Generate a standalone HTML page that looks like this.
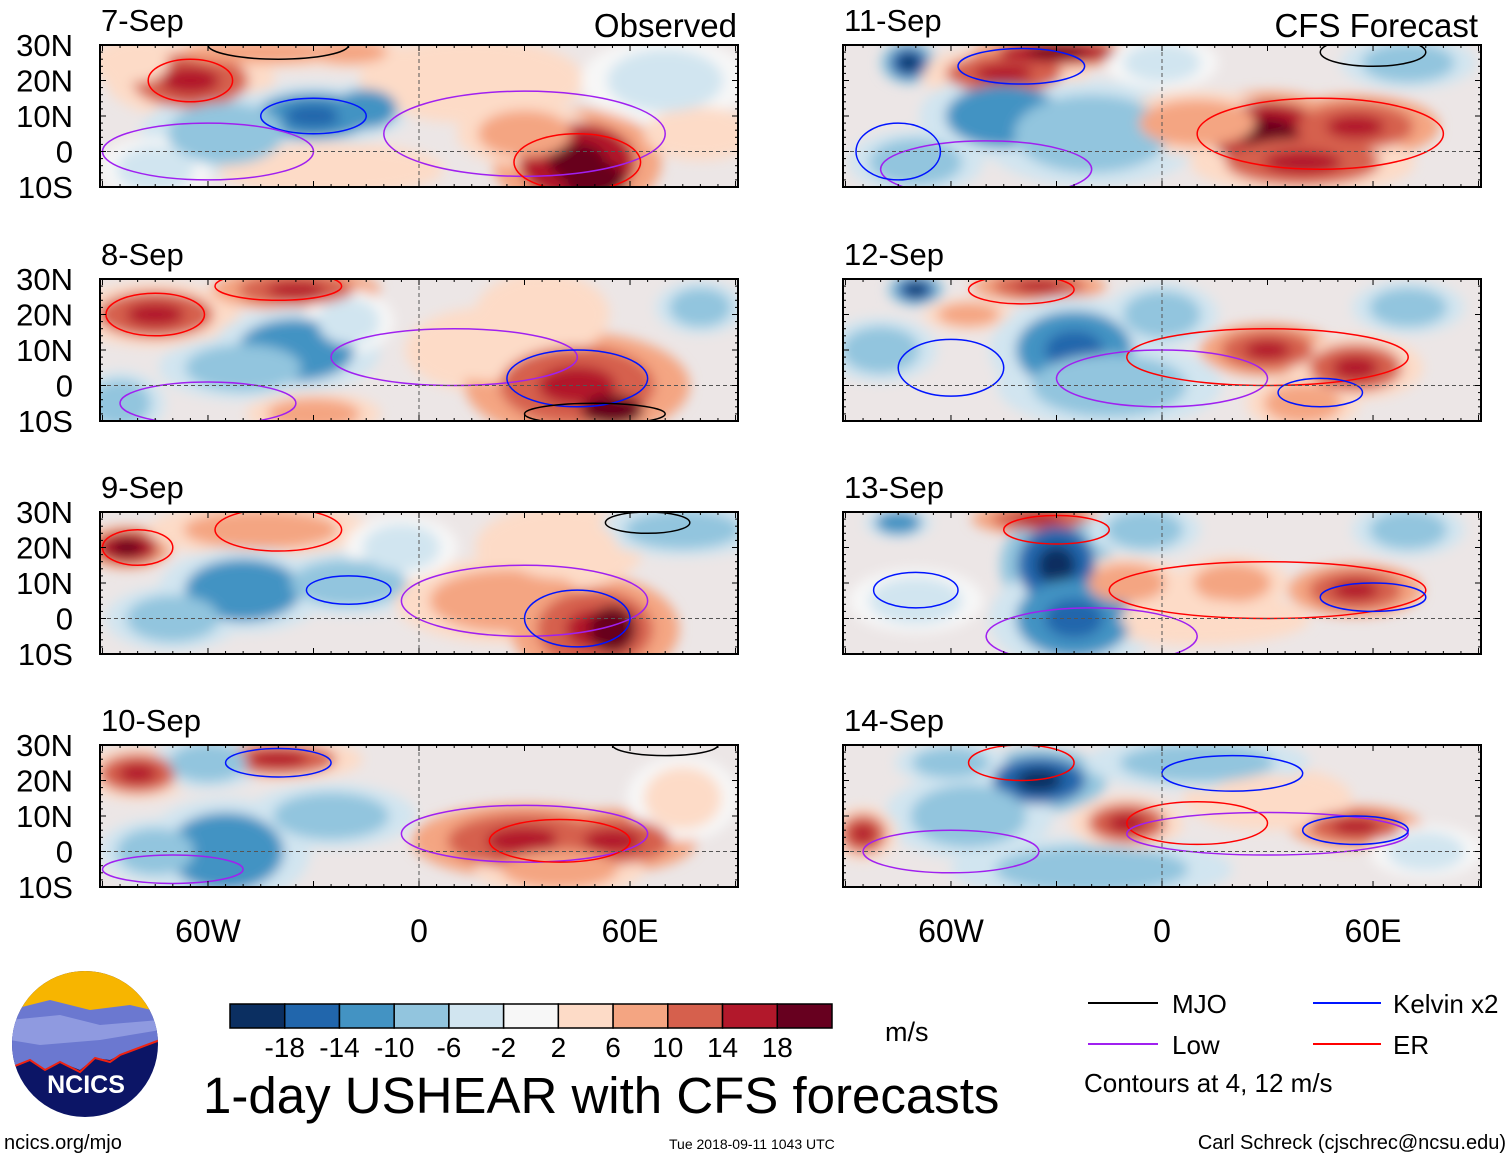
<!DOCTYPE html>
<html><head><meta charset="utf-8"><style>
body{margin:0;background:#fff;width:1510px;height:1159px;overflow:hidden;font-family:"Liberation Sans",sans-serif}
svg{position:absolute;left:0;top:0}
</style></head><body>
<svg id="fig" width="1510" height="1159" xmlns="http://www.w3.org/2000/svg">
<defs>
<filter id="blur" x="-30%" y="-30%" width="160%" height="160%"><feGaussianBlur stdDeviation="6"/></filter>
</defs>
</svg>
<script>
const panelTitles=["7-Sep","8-Sep","9-Sep","10-Sep","11-Sep","12-Sep","13-Sep","14-Sep"];
const colorLevels=[-18,-14,-10,-6,-2,2,6,10,14,18];
const colorFill=["#0b2f61","#2166ac","#4393c3","#92c5de","#d1e5f0","#f7f7f7","#fddbc7","#f4a582","#d6604d","#b2182b","#67001f"];
const xTicks=[{v:-60,t:"60W"},{v:0,t:"0"},{v:60,t:"60E"}];
const yTicks=[{v:30,t:"30N"},{v:20,t:"20N"},{v:10,t:"10N"},{v:0,t:"0"},{v:-10,t:"10S"}];
// blobs: [lon, lat, rxDeg, ryDeg, value m/s]
const blobs=[
[[-65,20,15,7,12],[-80,25,8,5,6],[-45,28,20,3,10],[-20,28,10,3,8],[-30,10,15,6,-12],[-15,12,8,5,-10],[-55,5,15,8,-6],[-75,-5,10,6,-4],[45,-3,15,10,16],[50,-8,8,5,20],[30,5,12,6,8],[15,20,20,8,6],[-25,-5,20,5,6],[70,20,15,8,-4],[80,5,10,5,6]],
[[-75,20,15,6,12],[-35,27,15,4,14],[-35,10,15,8,-10],[-50,5,15,6,-6],[-20,18,8,6,-4],[20,10,15,8,6],[45,0,20,10,14],[55,-7,8,4,20],[35,20,12,8,6],[-30,-8,12,4,10],[80,22,8,5,-8],[-85,-5,8,6,-6]],
[[-83,20,8,4,16],[-45,25,20,5,10],[-50,8,15,8,-10],[-20,10,15,6,-6],[-70,0,12,6,-6],[25,5,20,8,10],[50,-3,15,10,14],[55,-3,6,6,20],[40,20,15,8,6],[75,25,15,5,-6],[-5,20,10,6,-4]],
[[-80,22,10,5,12],[-40,26,15,4,12],[-55,0,15,10,-10],[-75,0,10,6,-8],[-25,10,15,6,-6],[30,3,20,7,14],[55,3,15,6,14],[40,-5,15,5,10],[75,15,10,8,4],[-60,25,10,5,-6]],
[[-72,25,5,4,-14],[-45,22,15,5,12],[-30,28,15,3,16],[-45,10,15,8,-10],[-20,5,20,10,-8],[-70,-3,12,6,-6],[30,5,15,8,16],[55,7,15,6,14],[40,-3,20,6,12],[10,8,15,6,8],[70,25,12,5,-6],[0,25,10,5,-4]],
[[-70,27,5,3,-14],[-55,20,8,3,10],[-35,28,12,3,14],[-25,10,15,10,-12],[-15,0,20,8,-8],[0,20,10,6,-6],[30,10,12,5,14],[55,5,12,6,12],[40,-5,10,5,10],[70,22,10,5,-8],[-80,10,10,6,-6]],
[[-75,27,6,3,-10],[-35,28,12,3,14],[-30,15,10,10,-16],[-25,0,15,10,-12],[-5,25,10,5,-8],[-10,10,10,5,10],[20,10,10,5,10],[55,8,12,5,14],[10,0,20,5,6],[70,25,10,5,-8],[-70,5,12,6,-4]],
[[-35,20,12,6,-16],[-55,10,15,8,-8],[-20,-5,25,6,-8],[-85,5,6,5,12],[-10,8,10,5,12],[55,7,12,4,14],[30,15,15,6,6],[10,25,20,5,-6],[-60,25,10,4,-6],[75,0,10,5,-4]]
];
// contours: [lon, lat, rxDeg, ryDeg, type]
const contours=[
[[-65,20,12,6,"er"],[-40,30,20,4,"mjo"],[-30,10,15,5,"kelvin"],[30,5,40,12,"low"],[45,-3,18,8,"er"],[-60,0,30,8,"low"]],
[[-75,20,14,6,"er"],[-40,28,18,4,"er"],[10,8,35,8,"low"],[45,2,20,8,"kelvin"],[-60,-5,25,6,"low"],[50,-8,20,3,"mjo"]],
[[-80,20,10,5,"er"],[-40,25,18,6,"er"],[30,5,35,10,"low"],[45,0,15,8,"kelvin"],[65,27,12,3,"mjo"],[-20,8,12,4,"kelvin"]],
[[-40,25,15,4,"kelvin"],[30,5,35,8,"low"],[40,3,20,6,"er"],[70,30,15,3,"mjo"],[-70,-5,20,4,"low"]],
[[-40,24,18,5,"kelvin"],[45,5,35,10,"er"],[-50,-5,30,8,"low"],[-75,0,12,8,"kelvin"],[60,28,15,4,"mjo"]],
[[-40,27,15,4,"er"],[30,8,40,8,"er"],[0,2,30,8,"low"],[-60,5,15,8,"kelvin"],[45,-2,12,4,"kelvin"]],
[[-30,25,15,4,"er"],[30,8,45,8,"er"],[-20,-5,30,8,"low"],[60,6,15,4,"kelvin"],[-70,8,12,5,"kelvin"]],
[[-40,25,15,5,"er"],[10,8,20,6,"er"],[30,5,40,6,"low"],[55,6,15,4,"kelvin"],[-60,0,25,6,"low"],[20,22,20,5,"kelvin"]]
];
const ctColor={mjo:"#000",low:"#a020f0",kelvin:"#0015ff",er:"#ff0000"};
const NS="http://www.w3.org/2000/svg";
const svg=document.getElementById("fig");
function el(tag,attrs,parent){const e=document.createElementNS(NS,tag);for(const k in attrs)e.setAttribute(k,attrs[k]);(parent||svg).appendChild(e);return e;}
function colorOf(v){let i=0;while(i<colorLevels.length&&v>colorLevels[i])i++;return colorFill[i];}
const tops=[45,279,512,745];
const lefts=[100,843];
const W=638,H=142;
panelTitles.forEach((name,p)=>{
  const col=p<4?0:1,row=p%4;
  const x0=lefts[col],y0=tops[row];
  const xs=lon=>x0+(lon+90.7)*W/181.4;
  const ys=lat=>y0+(30-lat)*H/40;
  const g=el("g",{});
  
  
  const cid="clip"+p;
  const cp=el("clipPath",{id:cid},svg);el("rect",{x:x0,y:y0,width:W,height:H},cp);
  const inner=el("g",{"clip-path":"url(#"+cid+")"},g);
  el("rect",{x:x0,y:y0,width:W,height:H,fill:"#ece6e6"},inner);
  const bl=el("g",{filter:"url(#blur)"},inner);
  blobs[p].forEach(b=>{
    const h=el("ellipse",{cx:xs(b[0]),cy:ys(b[1]),rx:b[2]*W/181.4*1.6,ry:b[3]*H/40*1.5,fill:colorOf(b[4]*0.45)},bl);
    
    
  });
  blobs[p].forEach(b=>{
    const e=el("ellipse",{cx:xs(b[0]),cy:ys(b[1]),rx:b[2]*W/181.4*1.1,ry:b[3]*H/40*1.1,fill:colorOf(b[4])},bl);
    
    
    if(Math.abs(b[4])>=12){const e2=el("ellipse",{cx:xs(b[0]),cy:ys(b[1]),rx:b[2]*W/181.4*0.55,ry:b[3]*H/40*0.55,fill:colorOf(b[4]+(b[4]>0?4:-4))},bl);
      
      }
  });
  contours[p].forEach(c=>{
    const e=el("ellipse",{cx:xs(c[0]),cy:ys(c[1]),rx:c[2]*W/181.4,ry:c[3]*H/40,fill:"none",stroke:ctColor[c[4]],"stroke-width":1.5},inner);
    
    
  });
  el("line",{x1:x0,x2:x0+W,y1:ys(0),y2:ys(0),stroke:"#555","stroke-dasharray":"4,3","stroke-width":1},inner);
  el("line",{x1:xs(0),x2:xs(0),y1:y0,y2:y0+H,stroke:"#555","stroke-dasharray":"4,3","stroke-width":1},inner);
  el("rect",{x:x0,y:y0,width:W,height:H,fill:"none",stroke:"#000","stroke-width":2},g);
  for(let lon=-90;lon<=90;lon+=5){const X=xs(lon);const L=lon%30===0?6:3;
    el("line",{x1:X,x2:X,y1:y0,y2:y0+L,stroke:"#000"},g);el("line",{x1:X,x2:X,y1:y0+H,y2:y0+H-L,stroke:"#000"},g);}
  for(let lat=-10;lat<=30;lat+=2){const Y=ys(lat);const L=lat%10===0?6:3;
    el("line",{x1:x0,x2:x0+L,y1:Y,y2:Y,stroke:"#000"},g);el("line",{x1:x0+W,x2:x0+W-L,y1:Y,y2:Y,stroke:"#000"},g);}
  const t=el("text",{x:x0+1,y:y0-14,"font-size":31,fill:"#000"},g);t.textContent=name;
  
  
  if(col===0){yTicks.forEach(yt=>{const tt=el("text",{x:73,y:ys(yt.v)+11,"font-size":31,"text-anchor":"end"},g);tt.textContent=yt.t;
    
    });}
  if(row===3){xTicks.forEach(xt=>{const tt=el("text",{x:xs(xt.v),y:942,"font-size":32,"text-anchor":"middle"},g);tt.textContent=xt.t;
    
    });}
});
[["Observed",737],["CFS Forecast",1478]].forEach(h=>{const t=el("text",{x:h[1],y:37,"font-size":33,"text-anchor":"end"});t.textContent=h[0];
  
  });
const cbx=230,cbw=602/11;
colorFill.forEach((c,i)=>{const r=el("rect",{x:cbx+i*cbw,y:1004,width:cbw,height:24,fill:c,stroke:"#000","stroke-width":1.5});
  
  });
colorLevels.forEach((v,i)=>{const t=el("text",{x:cbx+(i+1)*cbw,y:1057,"font-size":28,"text-anchor":"middle"});t.textContent=v;
  
  });
</script>
<svg width="1510" height="1159" style="pointer-events:none">
<text x="885" y="1041" font-size="27">m/s</text>
<text x="203" y="1113" font-size="51">1-day USHEAR with CFS forecasts</text>
<g>
<line x1="1088" x2="1158" y1="1003" y2="1003" stroke="#000" stroke-width="2"/><text x="1172" y="1013" font-size="26">MJO</text>
<line x1="1313" x2="1381" y1="1003" y2="1003" stroke="#0015ff" stroke-width="2"/><text x="1393" y="1013" font-size="26">Kelvin x2</text>
<line x1="1088" x2="1158" y1="1044" y2="1044" stroke="#a020f0" stroke-width="2"/><text x="1172" y="1054" font-size="26">Low</text>
<line x1="1313" x2="1381" y1="1044" y2="1044" stroke="#ff0000" stroke-width="2"/><text x="1393" y="1054" font-size="26">ER</text>
<text x="1084" y="1092" font-size="26">Contours at 4, 12 m/s</text>
</g>
<g>
<clipPath id="lc"><circle cx="85" cy="1044" r="73"/></clipPath>
<g clip-path="url(#lc)">
<rect x="10" y="970" width="150" height="150" fill="#0c1566"/>
<rect x="10" y="970" width="150" height="42" fill="#f7b500"/>
<path d="M10 1010 L50 1000 L90 1010 L130 1005 L160 1012 L160 1040 L120 1055 L110 1060 L95 1058 L80 1070 L60 1062 L45 1070 L30 1060 L10 1068Z" fill="#6b78d0"/>
<path d="M10 1020 L60 1015 L100 1025 L160 1020 L160 1030 L100 1040 L40 1045 L10 1040Z" fill="#8f9ae0"/>
<path d="M10 1068 L30 1060 L45 1070 L60 1062 L80 1072 L95 1058 L110 1062 L120 1055 L160 1040" fill="none" stroke="#e21" stroke-width="2"/>
</g>
<text x="86" y="1093" font-size="25" font-weight="bold" fill="#fff" text-anchor="middle">NCICS</text>
</g>
<text x="4" y="1149" font-size="20">ncics.org/mjo</text>
<text x="669" y="1149" font-size="14">Tue 2018-09-11 1043 UTC</text>
<text x="1506" y="1149" font-size="20" text-anchor="end">Carl Schreck (cjschrec@ncsu.edu)</text>
</svg>
</body></html>
